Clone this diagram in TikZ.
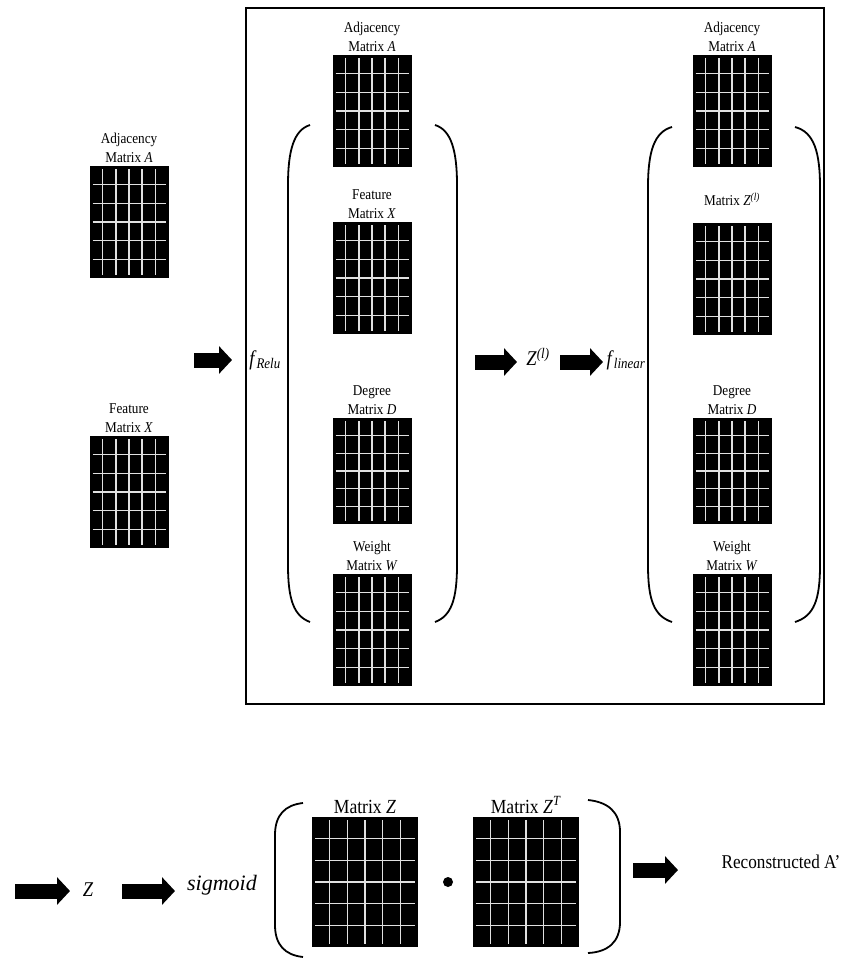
\documentclass[tikz,border=0pt]{standalone}
\usepackage{fontspec}
\setmainfont{Liberation Serif}[FakeStretch=0.88]
\newfontfamily\plainfont{Liberation Serif}
\usetikzlibrary{positioning, calc, arrows.meta}

\tikzset{
    matbox/.style={fill=black, inner sep=0pt, minimum width=79pt, minimum height=112pt,
        path picture={
            \foreach \k [evaluate=\k as \f using \k/6] in {1,...,5} {
                \draw[gridline] ($(path picture bounding box.north west)!\f!(path picture bounding box.north east)+(0,-3pt)$)
                    -- ($(path picture bounding box.south west)!\f!(path picture bounding box.south east)+(0,3pt)$);
                \draw[gridline] ($(path picture bounding box.north west)!\f!(path picture bounding box.south west)+(3pt,0)$)
                    -- ($(path picture bounding box.north east)!\f!(path picture bounding box.south east)+(-3pt,0)$);
            }
        }},
    bigmat/.style={matbox, minimum width=106pt, minimum height=130pt},
    gridline/.style={white!88!black, line width=1.5pt},
    matlbl/.style={align=center, inner sep=1pt, font=\fontsize{15}{19}\selectfont},
    biglbl/.style={inner sep=1pt, font=\fontsize{20}{24}\selectfont},
    blockarr/.style={line width=15pt, -{Triangle[length=13pt,width=27pt]}},
    paren/.style={line width=1.8pt},
}

\begin{document}
\begin{tikzpicture}[x=1pt, y=-1pt]
    \useasboundingbox (0,0) rectangle (843,958);
    % input matrices
    \node[matbox] (inA) at (129,222) {};
    \node[matlbl, above=2pt of inA] {Adjacency\\Matrix \textit{A}};
    \node[matbox] (inX) at (129,492) {};
    \node[matlbl, above=2pt of inX] {Feature\\Matrix \textit{X}};
    %
    \draw[very thick] (246,8) rectangle (824,704);
    % first layer
    \node[matbox] (oneA) at (372,111) {};
    \node[matlbl, above=2pt of oneA] {Adjacency\\Matrix \textit{A}};
    \node[matbox] (oneX) at (372,278) {};
    \node[matlbl, above=2pt of oneX] {Feature\\Matrix \textit{X}};
    \node[matbox, minimum height=106pt] (oneD) at (372,471) {};
    \node[matlbl, above=2pt of oneD] {Degree\\Matrix \textit{D}};
    \node[matbox] (oneW) at (372,630) {};
    \node[matlbl, above=2pt of oneW] {Weight\\Matrix \textit{W}};
    \draw[paren] (310,125) .. controls (294,130) and (288,150) .. (288,185) -- (288,565) .. controls (288,600) and (294,616) .. (310,622);
    \draw[paren] (435,125) .. controls (451,130) and (457,150) .. (457,185) -- (457,565) .. controls (457,600) and (451,616) .. (435,622);
    % second layer
    \node[matbox] (twoA) at (732,111) {};
    \node[matlbl, above=2pt of twoA] {Adjacency\\Matrix \textit{A}};
    \node[matbox] (twoZ) at (732,279) {};
    \node[matlbl, above=16pt of twoZ] {Matrix \textit{Z}\textsuperscript{\textit{(l)}}};
    \node[matbox, minimum height=106pt] (twoD) at (732,471) {};
    \node[matlbl, above=2pt of twoD] {Degree\\Matrix \textit{D}};
    \node[matbox] (twoW) at (732,630) {};
    \node[matlbl, above=2pt of twoW] {Weight\\Matrix \textit{W}};
    \draw[paren] (672,127) .. controls (654,132) and (648,152) .. (648,187) -- (648,565) .. controls (648,600) and (654,616) .. (672,622);
    \draw[paren] (795,127) .. controls (814,132) and (820,152) .. (820,187) -- (820,565) .. controls (820,600) and (814,616) .. (795,622);
    % labels and arrows between layers
    \node[inner sep=1pt, font=\fontsize{21}{24}\selectfont] (frelu) at (265,360) {\textit{f}\textsubscript{\textit{Relu}}};
    \node[inner sep=1pt, font=\fontsize{21}{24}\selectfont] (zone) at (538,357) {\textit{Z}\textsuperscript{\textit{(l)}}};
    \node[inner sep=1pt, font=\fontsize{21}{24}\selectfont] (flin) at (626,360) {\textit{f}\textsubscript{\textit{linear}}};
    \coordinate (a1s) at (194,360);
    \coordinate (a1e) at (232,360);
    \coordinate (a2s) at (475,362);
    \coordinate (a2e) at (517,362);
    \coordinate (a3s) at (560,362);
    \coordinate (a3e) at (603,362);
    \draw[blockarr] (a1s) -- (a1e);
    \draw[blockarr] (a2s) -- (a2e);
    \draw[blockarr] (a3s) -- (a3e);
    % decoder
    \node[inner sep=1pt, font=\fontsize{21}{24}\selectfont] (zout) at (88,890) {\textit{Z}};
    \node[inner sep=1pt, font=\plainfont\fontsize{22}{26}\selectfont] (sig) at (222,885) {\textit{sigmoid}};
    \node[bigmat] (decZ) at (365,882) {};
    \node[biglbl, above=2pt of decZ] {Matrix \textit{Z}};
    \node[circle, fill=black, inner sep=0pt, minimum size=10pt] (dot) at (448,882) {};
    \node[bigmat] (decZT) at (526,882) {};
    \node[biglbl, above=2pt of decZT] {Matrix \textit{Z}\textsuperscript{\textit{T}}};
    \draw[paren] (303,803) .. controls (285,805) and (275,815) .. (275,835) -- (275,925) .. controls (275,945) and (285,955) .. (303,957);
    \draw[paren] (588,800) .. controls (608,802) and (620,812) .. (620,832) -- (620,922) .. controls (620,942) and (608,952) .. (588,953);
    \node[inner sep=1pt, font=\fontsize{19.5}{24}\selectfont] (recon) at (781,862) {Reconstructed A'};
    \coordinate (b1s) at (15,891);
    \coordinate (b1e) at (70,891);
    \coordinate (b2s) at (122,891);
    \coordinate (b2e) at (175,891);
    \coordinate (b3s) at (633,870);
    \coordinate (b3e) at (678,870);
    \draw[blockarr] (b1s) -- (b1e);
    \draw[blockarr] (b2s) -- (b2e);
    \draw[blockarr] (b3s) -- (b3e);
\end{tikzpicture}
\end{document}
